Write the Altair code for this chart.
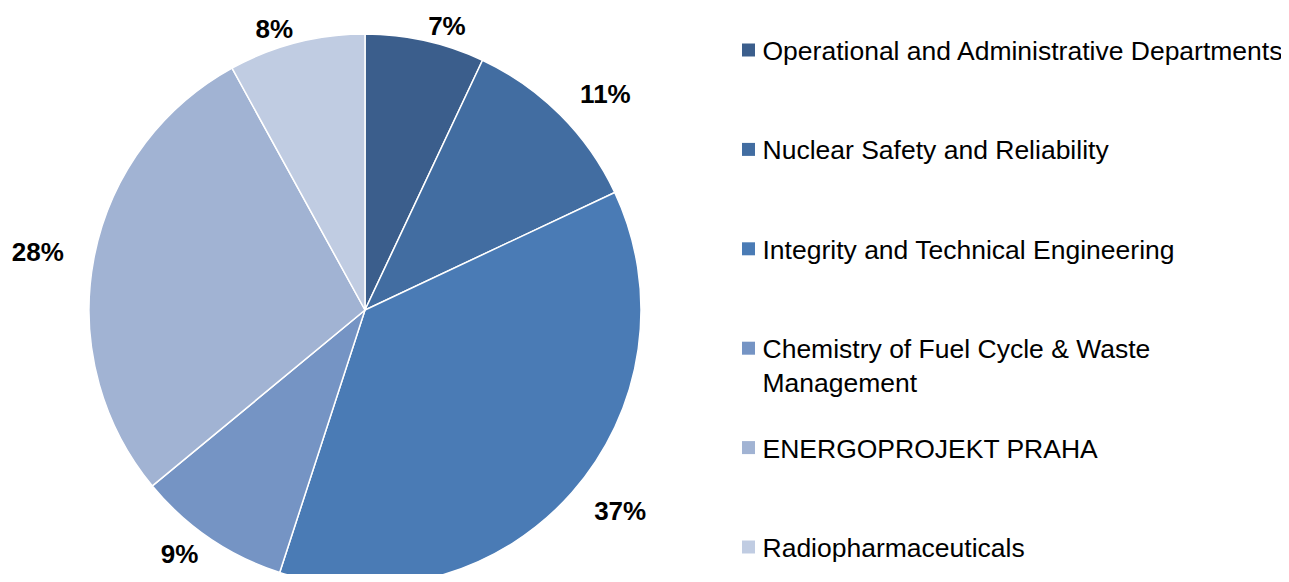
import altair as alt
import pandas as pd

categories = [
    "Operational and Administrative Departments",
    "Nuclear Safety and Reliability",
    "Integrity and Technical Engineering",
    "Chemistry of Fuel Cycle & Waste Management",
    "ENERGOPROJEKT PRAHA",
    "Radiopharmaceuticals",
]
legend_labels = [
    "Operational and Administrative Departments",
    "Nuclear Safety and Reliability",
    "Integrity and Technical Engineering",
    "Chemistry of Fuel Cycle & Waste\nManagement",
    "ENERGOPROJEKT PRAHA",
    "Radiopharmaceuticals",
]
values = [7, 11, 37, 9, 28, 8]
colors = ["#3B5E8C", "#426DA1", "#4A7BB5", "#7594C4", "#A1B3D3", "#C0CCE2"]

total = sum(values)
df = pd.DataFrame({
    "category": categories,
    "legend_label": legend_labels,
    "value": values,
    "order": list(range(len(values))),
    "label": [f"{v}%" for v in values],
})

FONT = "Liberation Sans"
CX, CY = 357, 302          # pie centre in plot coordinates
PIE_R = 276

theta_scale = alt.Scale(domain=[0, total])
color_enc = alt.Color("category:N", scale=alt.Scale(domain=categories, range=colors), legend=None)

base = alt.Chart(df)

arcs = base.mark_arc(radius=PIE_R, stroke="white", strokeWidth=1.5).encode(
    theta=alt.Theta("value:Q", stack=True, scale=theta_scale),
    color=color_enc,
    order=alt.Order("order:Q"),
    x=alt.value(CX),
    y=alt.value(CY),
)

lab = base.transform_window(
    cum="sum(value)", sort=[alt.SortField("order")], frame=[None, 0]
).transform_calculate(
    mid="datum.cum - datum.value / 2"
).transform_calculate(
    lr=f"283 + (datum.mid < {total / 2} ? 30 : 24) * abs(sin(2 * PI * datum.mid / {total}))"
)

text_kw = dict(baseline="middle", fontSize=26, fontWeight="bold", font=FONT, color="black")

def label_layer(cond, align):
    return lab.transform_filter(cond).mark_text(align=align, **text_kw).encode(
        theta=alt.Theta("mid:Q", stack=False, scale=theta_scale),
        radius=alt.Radius("lr:Q", scale=None),
        text="label:N",
        x=alt.value(CX),
        y=alt.value(CY),
    )

lab_right = label_layer(f"datum.mid < {total / 2}", "left")
lab_left = label_layer(f"datum.mid >= {total / 2}", "right")

leg_y = alt.Y("category:N", sort=categories,
              scale=alt.Scale(type="point", range=[42, 539], padding=0), axis=None)

leg_sq = base.mark_square(size=169, opacity=1, filled=True).encode(
    x=alt.value(740.5),
    y=leg_y,
    color=color_enc,
)
leg_txt = base.mark_text(align="left", baseline="top", dy=-11, fontSize=26.5, font=FONT,
                         lineBreak="\n", lineHeight=34, color="black").encode(
    x=alt.value(754.5),
    y=leg_y,
    text="legend_label:N",
)

chart = alt.layer(arcs, lab_right, lab_left, leg_sq, leg_txt).properties(
    width=1273, height=566, padding=0, autosize=alt.AutoSizeParams(type="none")
).configure_view(stroke=None)

chart.save("out.html", embed_options={"renderer": "svg", "actions": False})
